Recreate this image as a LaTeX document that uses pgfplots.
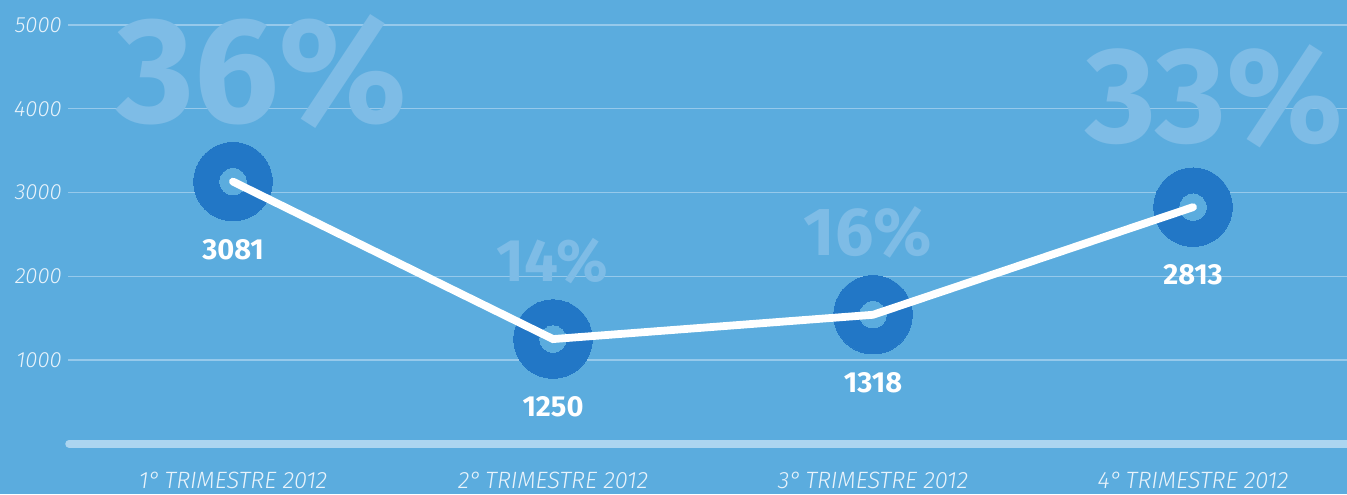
\documentclass[border=0pt]{standalone}
\usepackage{fontspec}
\setmainfont{Fira Sans}
\newfontfamily\lightit{Fira Sans Light Italic}
\usepackage{pgfplots}
\pgfplotsset{compat=1.18}
\definecolor{bg}{RGB}{91,172,222}
\definecolor{ring}{RGB}{34,119,198}
\definecolor{pct}{RGB}{126,188,230}
\definecolor{gridc}{RGB}{150,201,235}
\definecolor{basec}{RGB}{172,213,240}
\definecolor{tickc}{RGB}{232,243,251}
\begin{document}
\begin{tikzpicture}
\useasboundingbox[fill=bg] (-34pt,-25.125pt) rectangle (639.5pt,221.875pt);
\begin{axis}[
  scale only axis,
  width=639.5pt, height=209.375pt,
  xmin=-0.515625, xmax=3.48125,
  ymin=0, ymax=5000,
  clip=false,
  clip mode=individual,
  axis line style={draw=none},
  tick style={draw=none},
  ytick={1000,2000,3000,4000,5000},
  ymajorgrids,
  grid style={gridc, line width=0.7pt},
  xtick={0,1,2,3},
  xticklabels={1°\,TRIMESTRE 2012,2°\,TRIMESTRE 2012,3°\,TRIMESTRE 2012,4°\,TRIMESTRE 2012},
  xticklabel style={anchor=base, yshift=-22.6pt, text=tickc, font=\lightit\fontsize{11.8}{11.8}\selectfont},
  yticklabel style={anchor=east, inner sep=0pt, xshift=-3pt, text=tickc, font=\lightit\fontsize{11}{11}\selectfont},
  /pgf/number format/assume math mode=true,
  /pgf/number format/set thousands separator={},
]
% large percentages
\node[text=pct, inner sep=0pt, font=\bfseries\fontsize{75}{75}\selectfont] at (axis cs:0.09,4439) {36\%};
\node[text=pct, inner sep=0pt, font=\bfseries\fontsize{30}{30}\selectfont] at (axis cs:0.997,2182) {14\%};
\node[text=pct, inner sep=0pt, font=\bfseries\fontsize{34}{34}\selectfont] at (axis cs:1.984,2528) {16\%};
\node[text=pct, inner sep=0pt, font=\bfseries\fontsize{68}{68}\selectfont] at (axis cs:3.066,4152) {33\%};
% baseline
\draw[basec, line width=3.75pt, line cap=round] (axis cs:-0.5125,0) -- (axis cs:3.6,0);
% rings
\addplot[only marks, mark=*, mark size=19.6pt, mark options={draw=ring, fill=ring, line width=0pt}] coordinates {(0,3130) (1,1250) (2,1540) (3,2825)};
\addplot[only marks, mark=*, mark size=6.6pt, mark options={draw=bg, fill=bg, line width=0pt}] coordinates {(0,3130) (1,1250) (2,1540) (3,2825)};
% line
\addplot[white, line width=3.9pt, line cap=round, mark=none] coordinates {(0,3130) (1,1250) (2,1540) (3,2825)};
% value labels
\addplot[draw=none, mark=none, nodes near coords, point meta=explicit symbolic,
  every node near coord/.style={anchor=center, yshift=-34pt, text=white, inner sep=0pt, font=\bfseries\fontsize{14.5}{14.5}\selectfont}]
  table[meta=label] {
x y label
0 3130 3081
1 1250 1250
2 1540 1318
3 2825 2813
};
\end{axis}
\end{tikzpicture}
\end{document}
